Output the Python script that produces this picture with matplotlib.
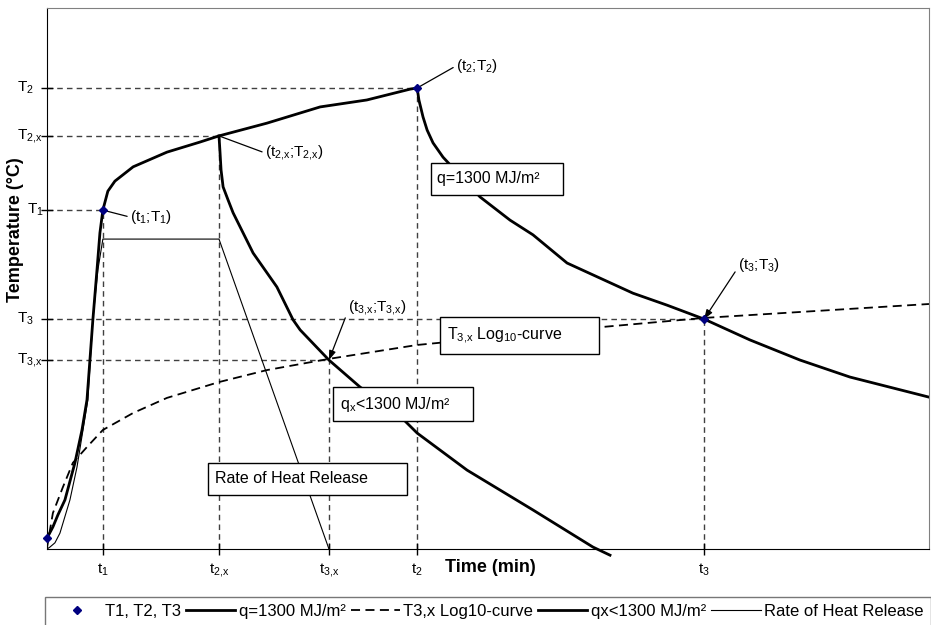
import matplotlib.pyplot as plt
from matplotlib.patches import Rectangle
from matplotlib.transforms import blended_transform_factory

plt.rcParams['font.family'] = ['Liberation Sans', 'DejaVu Sans']
plt.rcParams['mathtext.fontset'] = 'custom'
plt.rcParams['mathtext.rm'] = 'Liberation Sans'
plt.rcParams['mathtext.it'] = 'Liberation Sans:italic'
plt.rcParams['mathtext.bf'] = 'Liberation Sans:bold'
plt.rcParams['mathtext.default'] = 'rm'

# Curva de calentamiento + enfriamiento q=1300 MJ/m² (tiempo en min, temperatura en °C)
t_q = [0.0, 2.0, 3.7, 6.1, 9.5, 11.9, 13.6, 14.6, 15.6, 17.0, 18.0, 19.0, 20.7, 23.1,
       29.3, 40.8, 52.0, 58.5, 74.8, 92.9, 108.8, 123.5, 125.9,
       126.5, 127.9, 129.3, 131.3, 134.7, 147.3, 157.5, 165.3, 176.9, 188.1, 199.3,
       210.9, 223.5, 239.1, 256.1, 273.1, 300.0]
T_q = [28, 57, 88, 127, 223, 308, 386, 489, 593, 722, 818, 877, 926, 952,
       989, 1027, 1053, 1069, 1102, 1144, 1162, 1190, 1193,
       1162, 1118, 1084, 1051, 1014, 911, 851, 813, 740, 701, 662,
       631, 595, 541, 489, 445, 393]

# Enfriamiento qx<1300 MJ/m² (parte desde t2,x)
t_qx = [58.5, 58.8, 59.2, 59.9, 61.6, 63.3, 70.1, 78.2, 83.7, 86.1, 95.9, 106.5,
        119.0, 125.9, 142.9, 165.3, 185.7, 191.5]
T_qx = [1069, 1033, 981, 937, 903, 870, 766, 678, 593, 567, 489, 419,
        352, 300, 204, 101, 5, -16]

# Curva Log10 de T3,x
t_log = [0.0, 1.0, 2.0, 5.4, 8.8, 13.6, 19.0, 29.3, 40.8, 58.5, 74.8, 95.9, 125.9,
         188.1, 223.5, 300.0]
T_log = [3, 49, 93, 160, 223, 264, 308, 352, 391, 432, 463, 492, 528,
         574, 598, 634]

# Tasa de liberación de calor
t_rhr = [0.0, 1.0, 2.7, 4.4, 7.8, 10.2, 13.9, 15.6, 17.3, 19.0, 58.5, 95.9]
T_rhr = [0, 5, 16, 41, 127, 212, 386, 593, 722, 802, 802, 0]

# Puntos T1, T2, T3
t_pts = [0.0, 19.0, 125.9, 223.5]
T_pts = [28, 877, 1193, 595]

# Marcas de los ejes
t_ticks = [19.0, 58.5, 95.9, 125.9, 223.5]
t_labels = ['t$_1$', 't$_{2{,}x}$', 't$_{3{,}x}$', 't$_2$', 't$_3$']
T_ticks = [877, 1069, 489, 1193, 595]
T_labels = ['T$_1$', 'T$_{2{,}x}$', 'T$_{3{,}x}$', 'T$_2$', 'T$_3$']
T_label_x = [27, 17, 17, 17, 17]  # posicion en pixeles del texto

fig = plt.figure(figsize=(9.31, 6.25), dpi=100)
ax = fig.add_axes([47 / 931, 76 / 625, 882 / 931, 541 / 625])
ax.set_xlim(0, 300)
ax.set_ylim(0, 1400)

# Lineas guia discontinuas
for t, T in zip(t_ticks, T_ticks):
    ax.plot([0, t], [T, T], color='#404040', lw=1, ls=(0, (4, 3)), zorder=1)
    ax.plot([t, t], [0, T], color='#404040', lw=1, ls=(0, (4, 3)), zorder=1)

ax.plot(t_rhr, T_rhr, color='black', lw=0.8, label='Rate of Heat Release', zorder=2)
ax.plot(t_log, T_log, color='black', lw=1.3, ls=(0, (5, 3)), label='T3,x Log10-curve', zorder=2)
ax.plot(t_q, T_q, color='black', lw=2.0, label='q=1300 MJ/m²', zorder=3)
ax.plot(t_qx, T_qx, color='black', lw=2.0, label='qx<1300 MJ/m²', zorder=3, clip_on=False)
ax.plot(t_pts, T_pts, 'D', color='#000080', ms=4.5, label='T1, T2, T3', zorder=6, clip_on=False)

# Ejes
for s in ['left', 'bottom']:
    ax.spines[s].set_color('black')
for s in ['top', 'right']:
    ax.spines[s].set_color('#808080')
ax.set_xticks(t_ticks)
ax.set_yticks(T_ticks)
ax.set_xticklabels([])
ax.set_yticklabels([])
ax.tick_params(direction='inout', length=9, width=1)

tr_y = blended_transform_factory(fig.transFigure, ax.transData)
for T, lab, xp in zip(T_ticks, T_labels, T_label_x):
    ax.text(xp / 931, T, lab, transform=tr_y, ha='left', va='center', fontsize=11)
tr_x = blended_transform_factory(ax.transData, fig.transFigure)
for t, lab in zip(t_ticks, t_labels):
    ax.text(t, 1 - 570 / 625, lab, transform=tr_x, ha='center', va='center', fontsize=11)

fig.text(490 / 931, 1 - 567 / 625, 'Time (min)', ha='center', va='center',
         fontsize=13, fontweight='bold')
fig.text(15 / 931, 1 - 230 / 625, 'Temperature (°C)', ha='center', va='center',
         rotation=90, fontsize=13, fontweight='bold')

# Cuadros de texto
boxes = [
    ('q=1300 MJ/m²', 130.6, 175.5, 916, 999),
    ('T$_{3{,}x}$ Log$_{10}$-curve', 133.7, 187.8, 505, 600),
    ('q$_x$<1300 MJ/m²', 97.3, 144.9, 331, 419),
    ('Rate of Heat Release', 54.8, 122.4, 140, 223),
]
for txt, x0, x1, y0, y1 in boxes:
    ax.add_patch(Rectangle((x0, y0), x1 - x0, y1 - y0, facecolor='white',
                           edgecolor='black', lw=1, zorder=4))
    ax.text(x0 + 2.2, (y0 + y1) / 2, txt, ha='left', va='center', fontsize=11.5, zorder=5)

# Anotaciones de los puntos
notes = [
    ('(t$_1$;T$_1$)', 19.0, 877, 28.2, 859, False),
    ('(t$_{2{,}x}$;T$_{2{,}x}$)', 58.5, 1069, 74.1, 1025, False),
    ('(t$_2$;T$_2$)', 125.9, 1193, 139.1, 1250, False),
    ('(t$_{3{,}x}$;T$_{3{,}x}$)', 95.9, 489, 102.4, 624, True),
    ('(t$_3$;T$_3$)', 223.5, 595, 235.0, 735, True),
]
for txt, px, py, tx, ty, head in notes:
    style = '-|>,head_length=0.5,head_width=0.18' if head else '-'
    ax.annotate(txt, xy=(px, py), xytext=(tx, ty), ha='left', va='center', fontsize=11,
                arrowprops=dict(arrowstyle=style, color='black', lw=0.9,
                                shrinkA=0, shrinkB=0, relpos=(0, 0.35 if head else 0.5)),
                zorder=5)

handles, labels = ax.get_legend_handles_labels()
order = ['T1, T2, T3', 'q=1300 MJ/m²', 'T3,x Log10-curve', 'qx<1300 MJ/m²', 'Rate of Heat Release']
hl = dict(zip(labels, handles))
leg = fig.legend([hl[k] for k in order], order, loc='upper left',
                 bbox_to_anchor=(45 / 931, 28 / 625), ncol=5, fontsize=12,
                 fancybox=False, edgecolor='#555555', handlelength=2.95,
                 handletextpad=0.22, columnspacing=0.3, borderpad=0.42,
                 borderaxespad=0)
leg.get_frame().set_linewidth(1)

fig.savefig('out.png', dpi=100)
